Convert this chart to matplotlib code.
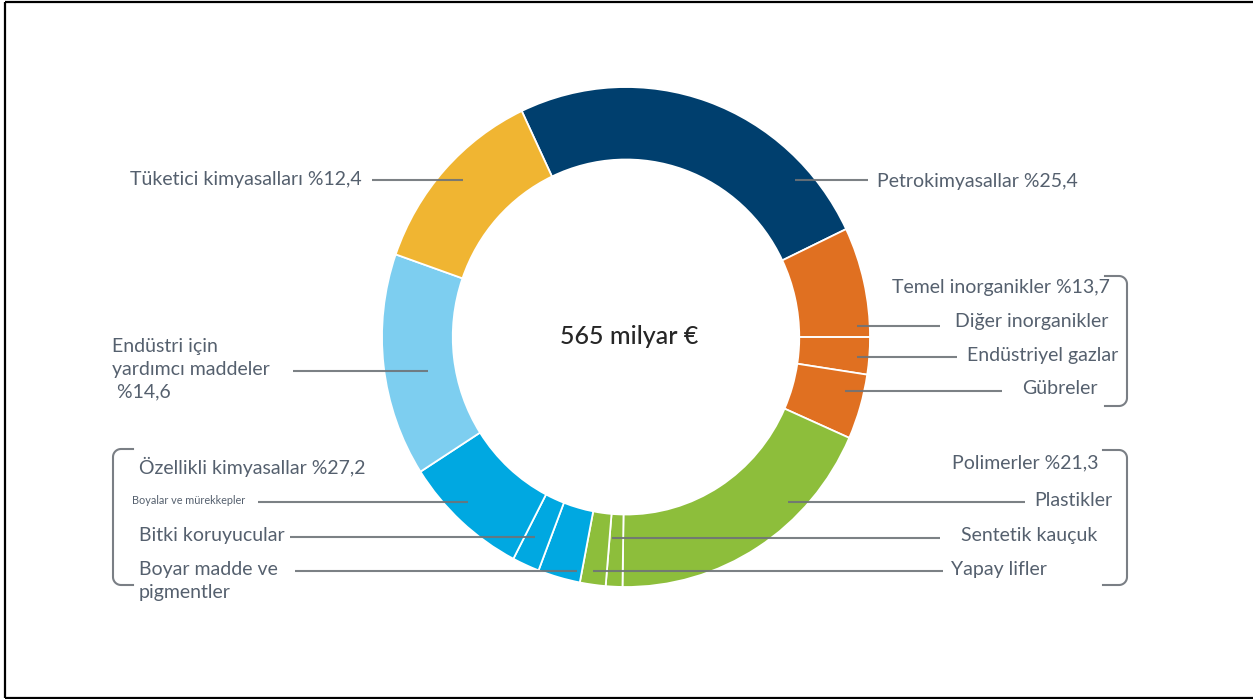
import numpy as np
import matplotlib
matplotlib.use("Agg")
import matplotlib.pyplot as plt

# ================== DỮ LIỆU ==================
# dilim paylari (%), saat yonunde, tepeden biraz solda baslayarak
segments = ["Petrokimyasallar", "Diğer inorganikler", "Endüstriyel gazlar", "Gübreler",
            "Plastikler", "Sentetik kauçuk", "Yapay lifler",
            "Boyar madde ve pigmentler", "Bitki koruyucular", "Boyalar ve mürekkepler",
            "Endüstri için yardımcı maddeler", "Tüketici kimyasalları"]
shares = [24.9, 7.1, 2.4, 4.2, 18.6, 1.1, 1.7, 2.8, 1.8, 8.3, 14.4, 12.6]
groups = ["petro", "inorg", "inorg", "inorg", "poli", "poli", "poli",
          "ozel", "ozel", "ozel", "yard", "tuk"]
center_text = "565 milyar €"

group_colors = {"petro": "#003f6e", "inorg": "#e07021", "poli": "#8dbe3b",
                "ozel": "#00a8e1", "yard": "#7dcef0", "tuk": "#f0b532"}

TXT = "#55606e"
LINE = "#6e7378"
FONT = ["Lato", "DejaVu Sans"]

W, H = 1253, 699
fig = plt.figure(figsize=(W / 100, H / 100), dpi=100)

# ================== HALKA ==================
cx, cy, rx, ry = 626, 337, 244, 250
axp = fig.add_axes([(cx - rx) / W, (H - cy - ry) / H, 2 * rx / W, 2 * ry / H])
axp.pie(shares, colors=[group_colors[g] for g in groups], startangle=115.3,
        counterclock=False, radius=1.0,
        wedgeprops=dict(width=0.29, edgecolor="white", linewidth=1.3))
axp.set_aspect("auto")
axp.set_xlim(-1, 1)
axp.set_ylim(-1, 1)
axp.axis("off")

# ================== ETIKETLER (piksel koordinat) ==================
ax = fig.add_axes([0, 0, 1, 1], zorder=3)
ax.set_xlim(0, W)
ax.set_ylim(H, 0)
ax.axis("off")
ax.patch.set_alpha(0)

# cerceve
ax.plot([5, 5], [1.5, 697.5], color="black", lw=1.6, solid_capstyle="butt")
ax.plot([5, W], [1.5, 1.5], color="black", lw=1.6, solid_capstyle="butt")
ax.plot([5, W], [697.5, 697.5], color="black", lw=1.6, solid_capstyle="butt")

ax.text(cx + 3, cy, center_text, ha="center", va="center", fontsize=18,
        color="#262626", family=["Lato", "DejaVu Sans"], weight="medium")

fs = 14
# (metin, x, y, hizalama, boyut)
labels = [
    ("Tüketici kimyasalları %12,4", 362, 180, "right", fs),
    ("Petrokimyasallar %25,4", 877, 182, "left", fs),
    ("Temel inorganikler %13,7", 1110, 288, "right", fs),
    ("Diğer inorganikler", 1108, 322, "right", fs),
    ("Endüstriyel gazlar", 1118, 356, "right", fs),
    ("Gübreler", 1098, 389, "right", fs),
    ("Polimerler %21,3", 1098, 463, "right", fs),
    ("Plastikler", 1112, 501, "right", fs),
    ("Sentetik kauçuk", 1097, 536, "right", fs),
    ("Yapay lifler", 1047, 569, "right", fs),
    ("Özellikli kimyasallar %27,2", 139, 467, "left", fs),
    ("Boyalar ve mürekkepler", 132, 501, "left", 7.8),
    ("Bitki koruyucular", 139, 536, "left", fs),
    ("Boyar madde ve\npigmentler", 139, 581, "left", fs),
    ("Endüstri için\nyardımcı maddeler\n %14,6", 112, 369, "left", fs),
]
for t, x, y, ha, s in labels:
    ax.text(x, y, t, ha=ha, va="center", fontsize=s, color=TXT, family=FONT,
            linespacing=1.4)

# gosterge cizgileri
leaders = [
    (372, 463, 180), (795, 868, 180),
    (857, 940, 326), (857, 957, 357), (845, 1002, 391),
    (788, 1025, 502), (612, 940, 538), (593, 943, 571),
    (258, 468, 502), (290, 535, 537), (295, 577, 571),
    (293, 428, 371),
]
for x0, x1, y in leaders:
    ax.plot([x0, x1], [y, y], color=LINE, lw=1.5, alpha=0.9, solid_capstyle="butt")


# gruplari saran koseli cizgi
def bracket(x, y0, y1, arm, r=8):
    t = np.linspace(0, np.pi / 2, 12)
    d = np.sign(arm)
    xs = [x + arm]
    ys = [y0]
    xs += list(x + d * r * (1 - np.sin(t)))
    ys += list(y0 + r * (1 - np.cos(t)))
    xs += list(x + d * r * (1 - np.cos(t)))
    ys += list(y1 - r * (1 - np.sin(t)))
    xs.append(x + arm)
    ys.append(y1)
    ax.plot(xs, ys, color="#7a7f85", lw=1.5)


bracket(1127, 276, 406, -22)
bracket(1127, 450, 585, -24)
bracket(113, 449, 585, 20)

fig.savefig("out.png", dpi=100, facecolor="white")
